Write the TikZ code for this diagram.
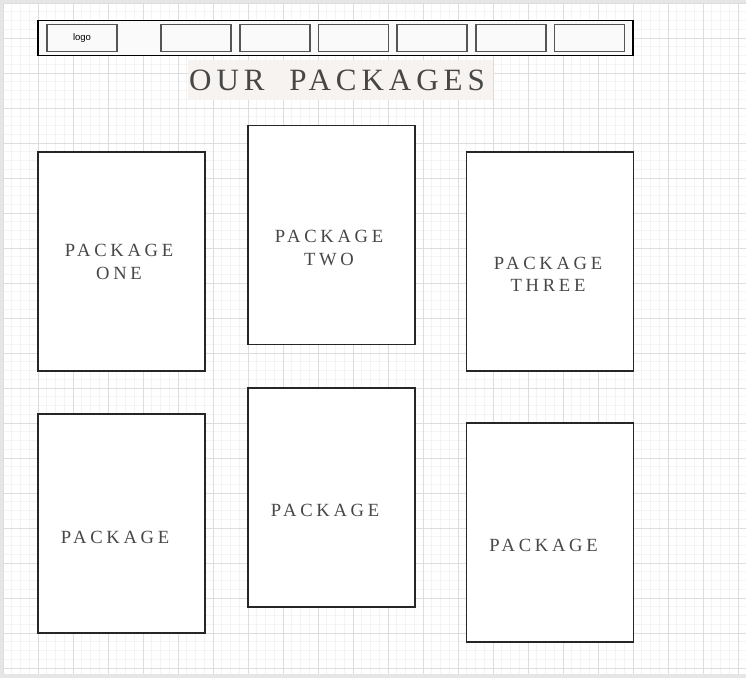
\documentclass[tikz,border=0pt]{standalone}
\usepackage{fontspec}
\newfontfamily\titlefont[LetterSpace=16]{Liberation Serif}
\newfontfamily\pkgfont[LetterSpace=20]{Liberation Serif}
\newfontfamily\logofont{Liberation Sans}
\definecolor{majorgrid}{HTML}{DDDDDD}
\definecolor{minorgrid}{HTML}{F4F4F4}
\definecolor{edgegray}{HTML}{E6E6E6}
\definecolor{navfill}{HTML}{FAFAFA}
\definecolor{navline}{HTML}{555555}
\definecolor{textgray}{HTML}{474747}
\definecolor{titlefill}{HTML}{F6F3F0}

\tikzstyle{navbar} = [rectangle, draw=black, fill=navfill, line width=1.2pt, minimum width=595pt, minimum height=35pt, inner sep=0pt]
\tikzstyle{navbox} = [rectangle, draw=navline, fill=navfill, line width=1.6pt, minimum width=70pt, minimum height=27pt, inner sep=0pt, font=\logofont\fontsize{9.5}{11}\selectfont]
\tikzstyle{headbox} = [rectangle, fill=titlefill, minimum width=305pt, minimum height=40pt, inner sep=0pt]
\tikzstyle{heading} = [inner sep=0pt, text=textgray, font=\titlefont\fontsize{31}{31}\selectfont]
\tikzstyle{package} = [rectangle, draw=black!85, fill=white, line width=1.3pt, minimum width=167pt, minimum height=219pt, inner sep=0pt]
\tikzstyle{pkglabel} = [align=center, inner sep=0pt, text=textgray, font=\pkgfont\fontsize{18.6}{22.3}\selectfont]

\begin{document}
\begin{tikzpicture}[x=1pt, y=-1pt]
      \useasboundingbox (0,0) rectangle (746,678);
      % grid paper
      \fill[white] (0,0) rectangle (746,678);
      \foreach \k in {0,...,84} {
        \draw[minorgrid, line width=0.7pt] (3+8.75*\k,3) -- (3+8.75*\k,674);
      }
      \foreach \k in {0,...,76} {
        \draw[minorgrid, line width=0.7pt] (3,3+8.75*\k) -- (746,3+8.75*\k);
      }
      \foreach \k in {0,...,21} {
        \draw[majorgrid, line width=0.9pt] (3+35*\k,3) -- (3+35*\k,674);
      }
      \foreach \k in {0,...,19} {
        \draw[majorgrid, line width=0.9pt] (3,3+35*\k) -- (746,3+35*\k);
      }
      \fill[edgegray] (0,0) rectangle (746,3);
      \fill[edgegray] (0,0) rectangle (3,678);
      \fill[edgegray] (0,674) rectangle (746,678);

      % menu bar
      \node[navbar] (nav) at (335.5,38.2) {};
      \node[navbox] (logo) at (82,38.1) {logo};
      \foreach \i in {1,...,6} {
        \node[navbox] (menu\i) at (196+78.7*\i-78.7,38.1) {};
      }

      % heading
      \node[headbox] (titlebg) at (340.5,80) {};
      \node[heading] (title) at (337,80.3) {OUR\hspace{12pt} PACKAGES};

      % packages
      \node[package] (one) at (121.5,261.5) {};
      \node[package] (two) at (331.5,235) {};
      \node[package] (three) at (550,261.5) {};
      \node[package] (four) at (121.5,523.5) {};
      \node[package] (five) at (331.5,497.5) {};
      \node[package] (six) at (550,532.5) {};
      \node[pkglabel] (onetext) at (119,262) {PACKAGE\\ONE};
      \node[pkglabel] (twotext) at (329,248) {PACKAGE\\TWO};
      \node[pkglabel] (threetext) at (548,274.5) {PACKAGE\\THREE};
      \node[pkglabel] (fourtext) at (115,537) {PACKAGE};
      \node[pkglabel] (fivetext) at (325,510) {PACKAGE};
      \node[pkglabel] (sixtext) at (543.5,545) {PACKAGE};
    \end{tikzpicture}
\end{document}
